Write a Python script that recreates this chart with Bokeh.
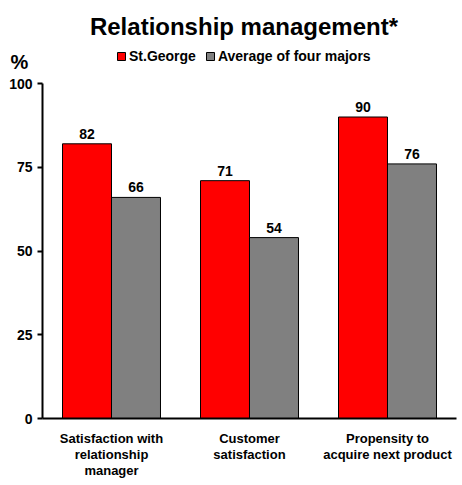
from bokeh.plotting import figure
from bokeh.models import Range1d, FixedTicker, Label, ColumnDataSource, Legend, LegendItem
from bokeh.transform import dodge
from bokeh.core.properties import value
from bokeh.embed import file_html
from bokeh.resources import INLINE

categories = ["Satisfaction with relationship manager", "Customer satisfaction", "Propensity to acquire next product"]
category_lines = [["Satisfaction with", "relationship", "manager"],
                  ["Customer", "satisfaction"],
                  ["Propensity to", "acquire next product"]]
stgeorge = [82, 71, 90]
majors = [66, 54, 76]
series_names = ["St.George", "Average of four majors"]
y_ticks = [0, 25, 50, 75, 100]

FONT = "Liberation Sans"

# category slots 0..3 on a numeric axis; frame covers whole canvas, axes fixed at 0
x_pos = [i + 0.5 for i in range(len(categories))]

p = figure(x_range=Range1d(-0.3043, 3.0435), y_range=Range1d(-20.0, 124.78),
           width=462, height=485, output_backend="svg", toolbar_location=None,
           min_border_left=0, min_border_right=0, min_border_top=0, min_border_bottom=0)
p.outline_line_color = None
p.xgrid.visible = False
p.ygrid.visible = False

src = ColumnDataSource(dict(x=x_pos, a=stgeorge, b=majors,
                            at=[str(v) for v in stgeorge], bt=[str(v) for v in majors]))

bw = 0.355
r1 = p.vbar(x=dodge("x", -bw / 2), top="a", width=bw, source=src,
            fill_color="#FF0000", line_color="black", line_width=1)
r2 = p.vbar(x=dodge("x", bw / 2), top="b", width=bw, source=src,
            fill_color="#808080", line_color="black", line_width=1)

p.text(x=dodge("x", -bw / 2), y="a", text="at", source=src,
       text_align="center", text_baseline="bottom", y_offset=-5,
       text_font=value(FONT), text_font_style="bold", text_font_size="14px", text_color="black")
p.text(x=dodge("x", bw / 2), y="b", text="bt", source=src,
       text_align="center", text_baseline="bottom", y_offset=-5,
       text_font=value(FONT), text_font_style="bold", text_font_size="14px", text_color="black")

# y axis
yax = p.yaxis[0]
yax.fixed_location = 0
yax.bounds = (0, 100)
yax.ticker = FixedTicker(ticks=y_ticks)
yax.axis_line_width = 2
yax.axis_line_color = "black"
yax.major_tick_line_width = 2
yax.major_tick_line_color = "black"
yax.major_tick_out = 5
yax.major_tick_in = 0
yax.minor_tick_line_color = None
yax.major_label_text_font = FONT
yax.major_label_text_font_style = "bold"
yax.major_label_text_font_size = "14px"
yax.major_label_text_color = "black"
yax.major_label_standoff = 5

# x axis (baseline)
xax = p.xaxis[0]
xax.fixed_location = 0
xax.bounds = (0, 3)
xax.ticker = FixedTicker(ticks=[])
xax.axis_line_width = 2
xax.axis_line_color = "black"
xax.major_tick_line_color = None
xax.minor_tick_line_color = None
xax.major_label_text_color = None

# category labels, one Label per line
line_y = [-5.85, -10.75, -15.5]
for i, lines in enumerate(category_lines):
    for j, t in enumerate(lines):
        p.add_layout(Label(x=x_pos[i], y=line_y[j], text=t, text_align="center",
                           text_baseline="middle", text_font=FONT, text_font_style="bold",
                           text_font_size="13px", text_color="black"))

# legend
lg = Legend(items=[LegendItem(label=series_names[0], renderers=[r1]),
                   LegendItem(label=series_names[1], renderers=[r2])],
            orientation="horizontal", location=(116, 421), padding=0, margin=0, spacing=9,
            glyph_width=10, glyph_height=10, label_height=14, label_standoff=3,
            label_text_font=FONT, label_text_font_style="bold", label_text_font_size="14px",
            label_text_color="black",
            border_line_color=None, background_fill_alpha=0)
p.add_layout(lg)

# title and % label
p.add_layout(Label(x=1.46, y=117.0, text="Relationship management*",
                   text_align="center", text_baseline="middle", text_font=FONT,
                   text_font_style="bold", text_font_size="24px", text_color="black"))
p.add_layout(Label(x=-0.167, y=106.4, text="%",
                   text_align="center", text_baseline="middle", text_font=FONT,
                   text_font_style="bold", text_font_size="20px", text_color="black"))

open("out.html", "w").write(file_html(p, INLINE))
